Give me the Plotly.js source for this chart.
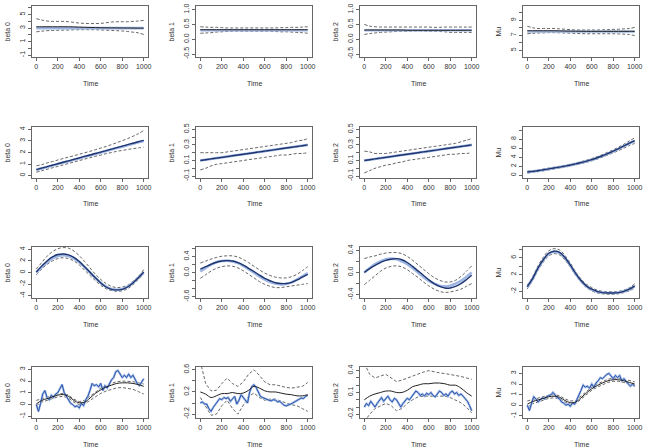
<!DOCTYPE html>
<html><head><meta charset="utf-8">
<script src="https://cdn.plot.ly/plotly-3.0.1.min.js"></script>
<style>html,body{margin:0;padding:0;background:#fff}#plot{width:645px;height:448px}</style>
</head><body><div id="plot"></div>
<script>
// ---- time grids ----
const T = [0,50,100,150,200,250,300,350,400,450,500,550,600,650,700,750,800,850,900,950,1000];
const T20 = [0,20,40,60,80,100,120,140,160,180,200,220,240,260,280,300,320,340,360,380,400,420,440,460,480,500,520,540,560,580,600,620,640,660,680,700,720,740,760,780,800,820,840,860,880,900,920,940,960,980,1000];
const xTicks = [0,200,400,600,800,1000];

// ---- row 1: constant coefficients ----
const r1c1_true = [3,3,3,3,3,3,3,3,3,3,3,3,3,3,3,3,3,3,3,3,3];
const r1c1_est  = [3.2,3.2,3.2,3.2,3.2,3.2,3.2,3.18,3.15,3.12,3.1,3.08,3.06,3.05,3.04,3.03,3.02,3.02,3.01,3.0,3.0];
const r1c1_up   = [4.4,4.2,4.05,4.0,4.0,4.0,3.95,3.85,3.75,3.7,3.68,3.68,3.7,3.8,3.9,3.95,3.95,3.95,4.0,4.05,4.15];
const r1c1_lo   = [2.45,2.55,2.62,2.65,2.68,2.7,2.72,2.75,2.76,2.77,2.77,2.76,2.73,2.7,2.66,2.62,2.58,2.5,2.4,2.3,2.05];

const r1c2_true = [0.3,0.3,0.3,0.3,0.3,0.3,0.3,0.3,0.3,0.3,0.3,0.3,0.3,0.3,0.3,0.3,0.3,0.3,0.3,0.3,0.3];
const r1c2_est  = [0.32,0.32,0.32,0.32,0.32,0.32,0.32,0.32,0.32,0.32,0.32,0.32,0.32,0.32,0.32,0.32,0.32,0.32,0.32,0.32,0.32];
const r1c2_up   = [0.42,0.41,0.4,0.4,0.39,0.38,0.38,0.38,0.38,0.38,0.38,0.38,0.38,0.38,0.38,0.39,0.39,0.4,0.4,0.41,0.42];
const r1c2_lo   = [0.2,0.21,0.22,0.24,0.25,0.26,0.27,0.27,0.27,0.27,0.27,0.27,0.27,0.27,0.26,0.25,0.25,0.24,0.23,0.22,0.2];

const r1c3_true = [0.3,0.3,0.3,0.3,0.3,0.3,0.3,0.3,0.3,0.3,0.3,0.3,0.3,0.3,0.3,0.3,0.3,0.3,0.3,0.3,0.3];
const r1c3_est  = [0.31,0.31,0.31,0.31,0.31,0.31,0.31,0.31,0.3,0.3,0.3,0.3,0.3,0.3,0.3,0.3,0.3,0.3,0.3,0.3,0.3];
const r1c3_up   = [0.5,0.44,0.42,0.41,0.41,0.41,0.41,0.41,0.41,0.41,0.41,0.41,0.41,0.4,0.4,0.41,0.41,0.41,0.41,0.41,0.41];
const r1c3_lo   = [0.16,0.19,0.21,0.23,0.24,0.25,0.26,0.27,0.27,0.28,0.28,0.28,0.27,0.27,0.26,0.25,0.23,0.23,0.23,0.23,0.23];

const r1c4_true = [7.5,7.5,7.5,7.5,7.5,7.5,7.5,7.5,7.5,7.5,7.5,7.5,7.5,7.5,7.5,7.5,7.5,7.5,7.5,7.5,7.5];
const r1c4_est  = [7.6,7.6,7.6,7.6,7.6,7.6,7.58,7.56,7.55,7.54,7.53,7.52,7.52,7.52,7.52,7.52,7.52,7.52,7.52,7.52,7.52];
const r1c4_up   = [8.2,8.0,7.9,7.9,7.9,7.9,7.85,7.8,7.75,7.7,7.7,7.7,7.7,7.7,7.72,7.75,7.78,7.8,7.85,7.9,8.05];
const r1c4_lo   = [7.2,7.25,7.3,7.32,7.35,7.35,7.33,7.3,7.28,7.25,7.22,7.2,7.2,7.2,7.2,7.2,7.2,7.18,7.15,7.1,6.95];

// ---- row 2: linear trend ----
const r2c1_true = [0.5,0.63,0.75,0.88,1.0,1.13,1.25,1.38,1.5,1.63,1.75,1.88,2.0,2.13,2.25,2.38,2.5,2.63,2.75,2.88,3.0];
const r2c1_est  = [0.52,0.65,0.78,0.9,1.03,1.16,1.28,1.41,1.53,1.66,1.78,1.91,2.03,2.16,2.29,2.42,2.55,2.68,2.8,2.93,3.05];
const r2c1_up   = [0.85,0.95,1.1,1.22,1.35,1.48,1.6,1.72,1.85,1.98,2.1,2.24,2.38,2.52,2.68,2.85,3.02,3.2,3.4,3.62,3.9];
const r2c1_lo   = [0.3,0.43,0.55,0.68,0.8,0.93,1.05,1.18,1.3,1.43,1.55,1.67,1.78,1.9,2.0,2.1,2.18,2.26,2.33,2.4,2.45];

const r2c2_true = [0.1,0.11,0.12,0.13,0.14,0.15,0.16,0.17,0.18,0.19,0.2,0.21,0.22,0.23,0.24,0.25,0.26,0.27,0.28,0.29,0.3];
const r2c2_est  = [0.1,0.11,0.12,0.13,0.14,0.15,0.16,0.17,0.18,0.19,0.2,0.21,0.22,0.23,0.24,0.25,0.26,0.27,0.28,0.29,0.3];
const r2c2_up   = [0.2,0.2,0.2,0.2,0.2,0.21,0.22,0.23,0.24,0.25,0.26,0.27,0.28,0.29,0.3,0.31,0.32,0.33,0.35,0.36,0.38];
const r2c2_lo   = [-0.02,0.0,0.03,0.05,0.06,0.07,0.08,0.09,0.1,0.11,0.12,0.13,0.14,0.15,0.16,0.17,0.17,0.18,0.19,0.19,0.2];

const r2c3_true = [0.1,0.11,0.12,0.13,0.14,0.15,0.16,0.17,0.18,0.19,0.2,0.21,0.22,0.23,0.24,0.25,0.26,0.27,0.28,0.29,0.3];
const r2c3_est  = [0.1,0.11,0.12,0.13,0.14,0.15,0.16,0.17,0.18,0.19,0.2,0.21,0.22,0.23,0.24,0.25,0.26,0.27,0.28,0.29,0.3];
const r2c3_up   = [0.22,0.21,0.19,0.19,0.19,0.2,0.21,0.22,0.23,0.24,0.25,0.26,0.27,0.28,0.29,0.3,0.31,0.32,0.34,0.36,0.38];
const r2c3_lo   = [-0.06,-0.03,0.0,0.02,0.04,0.05,0.07,0.08,0.1,0.11,0.12,0.13,0.14,0.15,0.16,0.17,0.18,0.18,0.19,0.19,0.2];

const r2c4_true = [0.7,0.85,1.0,1.2,1.4,1.6,1.8,2.0,2.25,2.5,2.8,3.1,3.45,3.85,4.3,4.8,5.3,5.85,6.45,7.1,7.6];
const r2c4_est  = [0.72,0.87,1.02,1.22,1.42,1.62,1.82,2.03,2.28,2.53,2.83,3.13,3.48,3.88,4.33,4.83,5.35,5.9,6.5,7.15,7.7];
const r2c4_up   = [0.9,1.05,1.2,1.4,1.6,1.8,2.0,2.22,2.47,2.73,3.03,3.35,3.72,4.13,4.6,5.12,5.65,6.25,6.9,7.6,8.3];
const r2c4_lo   = [0.5,0.65,0.8,1.0,1.2,1.4,1.6,1.8,2.03,2.28,2.57,2.87,3.2,3.58,4.02,4.5,4.98,5.48,6.02,6.6,7.05];

// ---- row 3: periodic ----
const r3c1_true = [0,0.93,1.76,2.43,2.85,3.0,2.85,2.43,1.76,0.93,0,-0.93,-1.76,-2.43,-2.85,-3.0,-2.85,-2.43,-1.76,-0.93,0];
const r3c1_est  = [0.1,1.1,2.0,2.7,3.1,3.2,3.05,2.6,1.9,1.0,0.05,-0.9,-1.8,-2.5,-2.9,-3.0,-2.9,-2.5,-1.8,-0.9,0.1];
const r3c1_up   = [0.6,1.7,2.8,3.6,4.1,4.3,4.2,3.7,2.9,1.9,0.8,-0.3,-1.2,-1.9,-2.4,-2.6,-2.5,-2.2,-1.5,-0.7,0.5];
const r3c1_lo   = [-0.4,0.6,1.4,2.0,2.4,2.55,2.4,2.0,1.3,0.4,-0.5,-1.4,-2.2,-2.8,-3.1,-3.25,-3.15,-2.8,-2.1,-1.2,-0.4];

const r3c2_true = [0.03,0.12,0.2,0.26,0.29,0.3,0.28,0.24,0.17,0.09,0.0,-0.09,-0.17,-0.23,-0.27,-0.29,-0.28,-0.24,-0.17,-0.09,-0.01];
const r3c2_est  = [0.09,0.15,0.21,0.26,0.29,0.3,0.29,0.25,0.19,0.11,0.03,-0.06,-0.14,-0.2,-0.25,-0.27,-0.27,-0.24,-0.18,-0.11,-0.04];
const r3c2_up   = [0.24,0.29,0.34,0.38,0.41,0.42,0.42,0.39,0.33,0.25,0.16,0.07,-0.01,-0.07,-0.11,-0.13,-0.13,-0.1,-0.04,0.05,0.15];
const r3c2_lo   = [-0.14,-0.05,0.04,0.11,0.15,0.17,0.16,0.12,0.05,-0.04,-0.13,-0.22,-0.29,-0.34,-0.37,-0.37,-0.35,-0.33,-0.31,-0.29,-0.27];

const r3c3_true = [0.0,0.08,0.15,0.2,0.24,0.25,0.24,0.2,0.15,0.08,0.0,-0.08,-0.15,-0.2,-0.24,-0.25,-0.24,-0.2,-0.15,-0.08,0.0];
const r3c3_est  = [0.0,0.07,0.13,0.18,0.22,0.24,0.25,0.23,0.18,0.11,0.03,-0.05,-0.13,-0.2,-0.25,-0.28,-0.28,-0.25,-0.2,-0.13,-0.05];
const r3c3_up   = [0.25,0.28,0.3,0.33,0.35,0.36,0.36,0.34,0.29,0.22,0.14,0.06,-0.02,-0.09,-0.14,-0.17,-0.17,-0.14,-0.07,0.02,0.12];
const r3c3_lo   = [-0.22,-0.14,-0.06,0.02,0.08,0.11,0.12,0.1,0.05,-0.02,-0.09,-0.17,-0.24,-0.3,-0.34,-0.36,-0.35,-0.33,-0.3,-0.25,-0.2];

const r3c4_true = [-1.0,1.0,3.5,5.5,7.0,7.5,7.2,6.0,4.2,2.2,0.5,-0.8,-1.6,-2.1,-2.3,-2.4,-2.4,-2.3,-2.0,-1.5,-0.8];
const r3c4_est  = [-0.9,1.1,3.6,5.6,7.1,7.6,7.3,6.1,4.3,2.3,0.6,-0.7,-1.5,-2.0,-2.3,-2.4,-2.4,-2.3,-2.0,-1.5,-0.7];
const r3c4_up   = [-0.5,1.5,4.1,6.2,7.7,8.2,7.9,6.6,4.8,2.7,1.0,-0.3,-1.1,-1.7,-2.0,-2.1,-2.1,-2.0,-1.7,-1.1,-0.2];
const r3c4_lo   = [-1.4,0.6,3.0,5.0,6.5,7.0,6.7,5.5,3.8,1.8,0.2,-1.1,-1.9,-2.4,-2.6,-2.7,-2.7,-2.6,-2.3,-1.9,-1.2];

// ---- row 4: random-walk coefficients ----
const r4c1_true = [0.0,-0.6,0.1,0.9,1.2,0.6,0.4,0.8,0.6,0.9,1.0,1.3,1.7,1.0,0.7,0.5,0.1,0.0,-0.2,-0.1,-0.3,0.1,-0.1,0.4,0.7,1.2,1.8,1.6,1.7,1.5,1.8,1.2,1.6,1.4,1.8,2.1,2.3,2.8,2.9,2.6,2.3,2.5,2.3,2.6,2.3,2.5,2.1,1.8,1.6,1.9,2.2];
const r4c1_est  = [0.05,0.35,0.5,0.65,0.8,0.85,0.7,0.35,0.15,0.2,0.55,0.95,1.25,1.5,1.65,1.8,1.85,1.85,1.8,1.7,1.55];
const r4c1_up   = [0.35,0.5,0.65,0.75,0.9,0.95,0.8,0.45,0.25,0.35,0.7,1.1,1.4,1.65,1.8,1.95,2.0,2.0,1.95,1.85,1.75];
const r4c1_lo   = [-0.1,0.2,0.35,0.5,0.65,0.7,0.55,0.2,0.0,0.05,0.35,0.7,0.95,1.15,1.3,1.42,1.45,1.4,1.3,1.1,0.9];

const r4c2_true = [0.0,0.02,-0.02,-0.02,-0.1,-0.15,-0.08,-0.02,0.03,0.08,0.06,0.1,0.08,0.1,0.03,0.08,0.12,-0.02,0.05,0.15,0.1,0.05,0.0,0.2,0.3,0.33,0.28,0.2,0.12,0.1,0.08,0.06,0.05,0.04,0.06,0.05,0.02,0.03,0.0,-0.04,-0.05,-0.04,-0.02,0.0,0.02,0.05,0.07,0.09,0.08,0.12,0.14];
const r4c2_est  = [0.2,0.16,0.1,0.13,0.17,0.17,0.19,0.17,0.18,0.23,0.3,0.27,0.22,0.2,0.2,0.18,0.16,0.15,0.13,0.13,0.15];
const r4c2_up   = [0.75,0.35,0.22,0.23,0.35,0.45,0.35,0.3,0.38,0.52,0.6,0.5,0.38,0.33,0.33,0.3,0.28,0.27,0.28,0.3,0.37];
const r4c2_lo   = [0.1,-0.05,-0.22,-0.2,-0.05,0.05,-0.1,-0.2,-0.05,0.12,0.18,0.1,0.05,0.07,0.07,0.03,0.0,-0.03,-0.05,-0.1,-0.15];

const r4c3_true = [-0.1,-0.05,-0.08,-0.02,-0.06,-0.1,-0.05,0.0,0.03,-0.02,0.02,0.05,0.0,-0.03,0.02,0.0,-0.05,-0.1,-0.05,-0.02,0.02,0.0,0.05,0.08,0.12,0.1,0.06,0.08,0.05,0.09,0.07,0.1,0.06,0.04,0.08,0.12,0.1,0.06,0.08,0.05,0.1,0.12,0.08,0.1,0.06,0.08,0.05,0.02,-0.02,-0.08,-0.15];
const r4c3_est  = [0.0,0.05,0.08,0.1,0.12,0.12,0.1,0.1,0.13,0.18,0.2,0.22,0.22,0.23,0.23,0.22,0.2,0.2,0.16,0.1,0.05];
const r4c3_up   = [0.5,0.35,0.3,0.32,0.35,0.3,0.25,0.27,0.3,0.33,0.36,0.38,0.4,0.38,0.37,0.36,0.35,0.34,0.32,0.3,0.28];
const r4c3_lo   = [-0.3,-0.2,-0.12,-0.08,-0.05,-0.08,-0.15,-0.12,-0.05,0.0,0.04,0.05,0.05,0.06,0.06,0.05,0.03,0.0,-0.04,-0.1,-0.18];

const r4c4_true = [0.0,-0.5,0.2,0.8,0.6,0.3,0.5,0.7,0.6,0.8,0.9,1.0,1.2,0.9,0.7,0.6,0.3,0.2,0.0,0.1,-0.1,0.2,0.1,0.5,0.9,1.4,1.9,1.7,1.8,1.6,2.0,1.7,2.1,2.3,2.6,2.5,2.7,2.9,3.0,2.7,2.5,2.8,2.6,2.8,2.3,2.5,2.2,2.0,1.8,2.0,1.8];
const r4c4_est  = [0.1,0.35,0.5,0.65,0.8,0.85,0.75,0.45,0.25,0.3,0.7,1.15,1.55,1.85,2.1,2.3,2.4,2.4,2.3,2.15,2.0];
const r4c4_up   = [0.4,0.55,0.7,0.8,0.95,1.0,0.9,0.6,0.4,0.45,0.85,1.3,1.7,2.0,2.25,2.45,2.55,2.55,2.45,2.3,2.2];
const r4c4_lo   = [-0.2,0.15,0.3,0.5,0.65,0.7,0.6,0.3,0.1,0.15,0.55,1.0,1.4,1.7,1.95,2.15,2.25,2.25,2.15,2.0,1.8];

// ---- panel labels ----
const yLabels = ['beta 0','beta 1','beta 2','Mu'];
const xLabel = 'Time';

// ---- panel axis setup (ranges / ticks) ----
const panels = [
  {tx:T, tr:r1c1_true, e:r1c1_est, u:r1c1_up, l:r1c1_lo, range:[-1.28,6.28], tv:[-1,0,1,2,3,4,5,6], tt:['-1','','1','','3','','5','']},
  {tx:T, tr:r1c2_true, e:r1c2_est, u:r1c2_up, l:r1c2_lo, range:[-0.6,1.12], tv:[-0.5,0,0.5,1], tt:['-0.5','0.0','0.5','1.0']},
  {tx:T, tr:r1c3_true, e:r1c3_est, u:r1c3_up, l:r1c3_lo, range:[-0.6,1.12], tv:[-0.5,0,0.5,1], tt:['-0.5','0.0','0.5','1.0']},
  {tx:T, tr:r1c4_true, e:r1c4_est, u:r1c4_up, l:r1c4_lo, range:[4.1,10.9], tv:[5,6,7,8,9,10], tt:['5','','7','','9','']},
  {tx:T, tr:r2c1_true, e:r2c1_est, u:r2c1_up, l:r2c1_lo, range:[-0.2,4.2], tv:[0,1,2,3,4], tt:['0','1','2','3','4']},
  {tx:T, tr:r2c2_true, e:r2c2_est, u:r2c2_up, l:r2c2_lo, range:[-0.125,0.53], tv:[-0.1,0,0.1,0.2,0.3,0.4,0.5], tt:['-0.1','','0.1','','0.3','','0.5']},
  {tx:T, tr:r2c3_true, e:r2c3_est, u:r2c3_up, l:r2c3_lo, range:[-0.125,0.53], tv:[-0.1,0,0.1,0.2,0.3,0.4,0.5], tt:['-0.1','','0.1','','0.3','','0.5']},
  {tx:T, tr:r2c4_true, e:r2c4_est, u:r2c4_up, l:r2c4_lo, range:[-0.6,10.7], tv:[0,2,4,6,8,10], tt:['0','2','4','6','8','']},
  {tx:T, tr:r3c1_true, e:r3c1_est, u:r3c1_up, l:r3c1_lo, range:[-4.4,4.4], tv:[-4,-2,0,2,4], tt:['-4','-2','0','2','4']},
  {tx:T, tr:r3c2_true, e:r3c2_est, u:r3c2_up, l:r3c2_lo, range:[-0.63,0.64], tv:[-0.6,-0.4,-0.2,0,0.2,0.4,0.6], tt:['-0.6','','','0.0','','0.4','']},
  {tx:T, tr:r3c3_true, e:r3c3_est, u:r3c3_up, l:r3c3_lo, range:[-0.46,0.46], tv:[-0.4,-0.2,0,0.2,0.4], tt:['-0.4','','0.0','','0.4']},
  {tx:T, tr:r3c4_true, e:r3c4_est, u:r3c4_up, l:r3c4_lo, range:[-3.6,8.6], tv:[-2,0,2,4,6,8], tt:['-2','','2','','6','']},
  {tx:T20, tr:r4c1_true, e:r4c1_est, u:r4c1_up, l:r4c1_lo, range:[-1.15,3.2], tv:[-1,0,1,2,3], tt:['-1','0','1','2','3'], walk:true},
  {tx:T20, tr:r4c2_true, e:r4c2_est, u:r4c2_up, l:r4c2_lo, range:[-0.27,0.65], tv:[-0.2,0,0.2,0.4,0.6], tt:['-0.2','','0.2','','0.6'], walk:true},
  {tx:T20, tr:r4c3_true, e:r4c3_est, u:r4c3_up, l:r4c3_lo, range:[-0.25,0.45], tv:[-0.2,-0.1,0,0.1,0.2,0.3,0.4], tt:['-0.2','','','0.1','','','0.4'], walk:true},
  {tx:T20, tr:r4c4_true, e:r4c4_est, u:r4c4_up, l:r4c4_lo, range:[-1.2,3.6], tv:[-1,0,1,2,3], tt:['-1','0','1','2','3'], walk:true}
];

// ---- geometry (pixels) ----
const W = 645, H = 448;
const colLeft = [32,196,360,523], boxW = 116;
const rowTop = [6,127,247,367], boxH = 51;

const FONT = 'Liberation Sans, Arial, sans-serif';
const TXT = '#333', LINE = '#666';
const traces = [];
const layout = {width:W, height:H, margin:{l:0,r:0,t:0,b:0}, showlegend:false,
  paper_bgcolor:'#fff', plot_bgcolor:'#fff', annotations:[], font:{family:FONT,size:7,color:TXT}};

panels.forEach((p,k) => {
  const r = Math.floor(k/4), c = k%4;
  const xa = 'x'+(k+1), ya = 'y'+(k+1);
  const xd = [colLeft[c]/W, (colLeft[c]+boxW)/W];
  const yd = [1-(rowTop[r]+boxH)/H, 1-rowTop[r]/H];
  const common = {showgrid:false, zeroline:false, showline:true, mirror:true, linecolor:LINE, linewidth:1,
    ticks:'outside', ticklen:3, tickcolor:LINE, tickfont:{family:FONT,size:7,color:TXT}, fixedrange:true};
  layout['xaxis'+(k+1)] = Object.assign({}, common, {domain:xd, anchor:ya, range:[-40,1040], tickmode:'array', tickvals:xTicks, ticktext:xTicks.map(String)});
  layout['yaxis'+(k+1)] = Object.assign({}, common, {domain:yd, anchor:xa, range:p.range, tickmode:'array', tickvals:p.tv, ticktext:p.tt, tickangle:-90});
  const shape = p.walk ? 'linear' : 'spline';
  // confidence bounds
  traces.push({x:T, y:p.u, xaxis:xa, yaxis:ya, mode:'lines', line:{color:'#555', width:0.9, dash:'3px,2px', shape:shape}});
  traces.push({x:T, y:p.l, xaxis:xa, yaxis:ya, mode:'lines', line:{color:'#555', width:0.9, dash:'3px,2px', shape:shape}});
  if (p.walk) {
    traces.push({x:p.tx, y:p.tr, xaxis:xa, yaxis:ya, mode:'lines', line:{color:'#9fb6e2', width:2.2}});
    traces.push({x:p.tx, y:p.tr, xaxis:xa, yaxis:ya, mode:'lines', line:{color:'#2b58ad', width:1}});
    traces.push({x:T, y:p.e, xaxis:xa, yaxis:ya, mode:'lines', line:{color:'#222', width:1, shape:'spline'}});
  } else {
    traces.push({x:p.tx, y:p.tr, xaxis:xa, yaxis:ya, mode:'lines', line:{color:'#9fb6e2', width:2.6, shape:'spline'}});
    traces.push({x:T, y:p.e, xaxis:xa, yaxis:ya, mode:'lines', line:{color:(r===0?'#222':'#1f3570'), width:(r===0?1:1.4), shape:'spline'}});
  }
  // axis labels
  layout.annotations.push({xref:'paper', yref:'paper', x:(colLeft[c]+boxW/2)/W, y:1-(rowTop[r]+boxH+26)/H,
    text:xLabel, showarrow:false, font:{family:FONT,size:7,color:TXT}, xanchor:'center', yanchor:'middle'});
  layout.annotations.push({xref:'paper', yref:'paper', x:(colLeft[c]-25)/W, y:1-(rowTop[r]+boxH/2)/H,
    text:yLabels[c], textangle:-90, showarrow:false, font:{family:FONT,size:7,color:TXT}, xanchor:'center', yanchor:'middle'});
});

Plotly.newPlot('plot', traces, layout, {staticPlot:true, displayModeBar:false});
</script></body></html>
